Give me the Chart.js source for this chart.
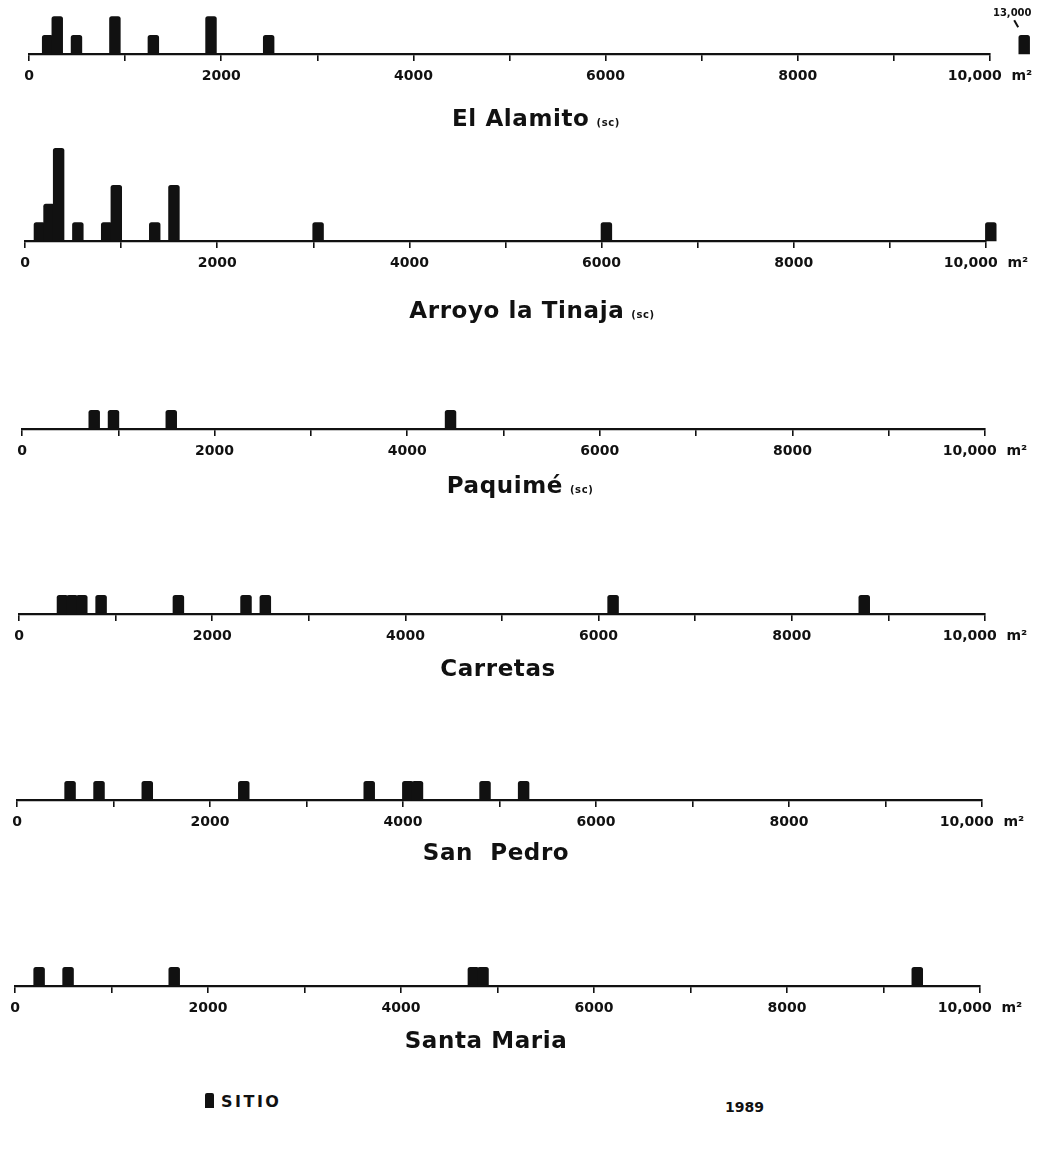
<!DOCTYPE html>
<html>
<head>
<meta charset="utf-8">
<script src="https://cdn.jsdelivr.net/npm/chart.js@4.4.0/dist/chart.umd.min.js"></script>
<style>
  html, body { margin: 0; padding: 0; background: #fff; }
  #page { position: relative; width: 1053px; height: 1155px; overflow: hidden; background: #fff; }
  #page canvas { position: absolute; left: 0; }
  .foot { position: absolute; font-family: "DejaVu Sans", sans-serif; font-weight: bold; color: #111; }
  .swatch { display: inline-block; width: 9px; height: 15px; background: #111; border-radius: 2px 2px 0 0; margin-right: 7px; vertical-align: -1px; }
</style>
</head>
<body>
<div id="page">
  <canvas id="c1"></canvas>
  <canvas id="c2"></canvas>
  <canvas id="c3"></canvas>
  <canvas id="c4"></canvas>
  <canvas id="c5"></canvas>
  <canvas id="c6"></canvas>
  <div class="foot" style="left:205px; top:1092px; font-size:16px; letter-spacing:2.5px;"><span class="swatch"></span>SITIO</div>
  <div class="foot" style="left:725px; top:1099px; font-size:14px;">1989</div>
</div>
<script>
// sitios por clase de area: inicio de la clase (m2) y numero de sitios
const BIN = 100;

const alamitoBins = [200, 300, 500, 900, 1300, 1900, 2500];
const alamitoSites = [1, 2, 1, 2, 1, 2, 1];
const alamitoOutlierArea = [13000];
const alamitoOutlierSites = [1];

const tinajaBins = [100, 200, 300, 500, 800, 900, 1300, 1500, 3000, 6000, 10000];
const tinajaSites = [1, 2, 5, 1, 1, 3, 1, 3, 1, 1, 1];

const paquimeBins = [700, 900, 1500, 4400];
const paquimeSites = [1, 1, 1, 1];

const carretasBins = [400, 500, 600, 800, 1600, 2300, 2500, 6100, 8700];
const carretasSites = [1, 1, 1, 1, 1, 1, 1, 1, 1];

const sanPedroBins = [500, 800, 1300, 2300, 3600, 4000, 4100, 4800, 5200];
const sanPedroSites = [1, 1, 1, 1, 1, 1, 1, 1, 1];

const santaMariaBins = [200, 500, 1600, 4700, 4800, 9300];
const santaMariaSites = [1, 1, 1, 1, 1, 1];

const tickValues = [0, 2000, 4000, 6000, 8000, 10000];
const tickLabels = ["0", "2000", "4000", "6000", "8000", "10,000  m²"];

// layout de cada panel (pixeles de la pagina)
const UNIT = 18.5;      // alto de un sitio
const PAD_TOP = 6;
const AXIS_H = 40;
const PAD_BOTTOM = 52;
const BREAK_AT = 10250; // donde se dibuja la clase fuera de escala

const panels = [
  { id: "c1", bins: alamitoBins, sites: alamitoSites, x0: 29, x1: 990, base: 54, yMax: 2.3,
    title: "El Alamito", note: "(sc)", titleX: 536, titleDy: 72 },
  { id: "c2", bins: tinajaBins, sites: tinajaSites, x0: 25, x1: 986, base: 241, yMax: 5.4,
    title: "Arroyo la Tinaja", note: "(sc)", titleX: 532, titleDy: 77 },
  { id: "c3", bins: paquimeBins, sites: paquimeSites, x0: 22, x1: 985, base: 429, yMax: 1.4,
    title: "Paquimé", note: "(sc)", titleX: 520, titleDy: 64 },
  { id: "c4", bins: carretasBins, sites: carretasSites, x0: 19, x1: 985, base: 614, yMax: 1.4,
    title: "Carretas", note: "", titleX: 498, titleDy: 62 },
  { id: "c5", bins: sanPedroBins, sites: sanPedroSites, x0: 17, x1: 982, base: 800, yMax: 1.4,
    title: "San  Pedro", note: "", titleX: 496, titleDy: 60 },
  { id: "c6", bins: santaMariaBins, sites: santaMariaSites, x0: 15, x1: 980, base: 986, yMax: 1.4,
    title: "Santa Maria", note: "", titleX: 486, titleDy: 62 }
];

// titulo centrado con la nota "(sc)" en letra chica
const titlePlugin = {
  id: "panelTitle",
  afterDraw(chart, args, opts) {
    const ctx = chart.ctx;
    const y = chart.chartArea.bottom + opts.dy;
    ctx.save();
    ctx.fillStyle = "#111";
    ctx.textBaseline = "alphabetic";
    ctx.textAlign = "left";
    ctx.letterSpacing = "0.6px";
    ctx.font = "bold 23px 'DejaVu Sans'";
    const wMain = ctx.measureText(opts.text).width;
    let wNote = 0;
    if (opts.note) {
      ctx.font = "bold 10px 'DejaVu Sans'";
      wNote = ctx.measureText(opts.note).width + 7;
    }
    const left = opts.x - (wMain + wNote) / 2;
    ctx.font = "bold 23px 'DejaVu Sans'";
    ctx.fillText(opts.text, left, y);
    if (opts.note) {
      ctx.font = "bold 10px 'DejaVu Sans'";
      ctx.fillText(opts.note, left + wMain + 7, y);
    }
    ctx.restore();
  }
};

// rotulo "13,000" sobre la barra fuera de escala
const outlierPlugin = {
  id: "outlierLabel",
  afterDatasetsDraw(chart, args, opts) {
    if (!opts.labels) return;
    const meta = chart.getDatasetMeta(1);
    const ctx = chart.ctx;
    ctx.save();
    meta.data.forEach((bar, i) => {
      const top = bar.y;
      ctx.strokeStyle = "#111";
      ctx.lineWidth = 2;
      ctx.beginPath();
      ctx.moveTo(bar.x - 10, top - 15);
      ctx.lineTo(bar.x - 6, top - 8);
      ctx.stroke();
      ctx.fillStyle = "#111";
      ctx.font = "bold 10px 'DejaVu Sans'";
      ctx.textAlign = "center";
      ctx.textBaseline = "alphabetic";
      ctx.fillText(opts.labels[i], bar.x - 12, top - 19);
    });
    ctx.restore();
  }
};

function makePanel(p, extra) {
  const plotH = p.yMax * UNIT;
  const canvas = document.getElementById(p.id);
  const h = Math.round(PAD_TOP + plotH + AXIS_H + PAD_BOTTOM);
  canvas.width = 1053;
  canvas.height = h;
  canvas.style.width = "1053px";
  canvas.style.height = h + "px";
  canvas.style.top = Math.round(p.base - plotH - PAD_TOP) + "px";

  const barW = (p.x1 - p.x0) / (10000 / BIN) * 1.12;
  const barStyle = {
    backgroundColor: "#111",
    barThickness: barW,
    borderRadius: { topLeft: 2.5, topRight: 2.5, bottomLeft: 0, bottomRight: 0 },
    borderSkipped: "bottom",
    clip: false
  };

  const datasets = [
    Object.assign({
      label: "SITIO",
      data: p.bins.map((b, i) => ({ x: b + BIN / 2, y: p.sites[i] }))
    }, barStyle)
  ];
  if (extra) {
    datasets.push(Object.assign({
      label: "SITIO",
      data: extra.areas.map((a, i) => ({ x: BREAK_AT + BIN / 2, y: extra.sites[i] }))
    }, barStyle));
  }

  new Chart(canvas, {
    type: "bar",
    data: { datasets },
    options: {
      responsive: false,
      animation: false,
      devicePixelRatio: 1,
      layout: {
        padding: { left: p.x0, right: 1053 - p.x1, top: PAD_TOP, bottom: PAD_BOTTOM }
      },
      plugins: {
        legend: { display: false },
        tooltip: { enabled: false },
        panelTitle: { text: p.title, note: p.note, x: p.titleX, dy: p.titleDy },
        outlierLabel: { labels: extra ? extra.areas.map(a => a.toLocaleString("en-US")) : null }
      },
      scales: {
        x: {
          type: "linear",
          min: 0,
          max: 10000,
          offset: false,
          afterFit(scale) { scale.height = AXIS_H; },
          ticks: {
            stepSize: 1000,
            autoSkip: false,
            maxRotation: 0,
            padding: 7,
            color: "#111",
            font: { family: "DejaVu Sans", weight: "bold", size: 14 },
            callback: (v) => {
              const k = tickValues.indexOf(v);
              return k >= 0 ? tickLabels[k] : "";
            }
          },
          grid: {
            display: true,
            offset: false,
            drawOnChartArea: false,
            drawTicks: true,
            tickLength: 7,
            color: "#111",
            lineWidth: 1.6
          },
          border: { display: true, color: "#111", width: 2.2 }
        },
        y: { display: false, min: 0, max: p.yMax }
      }
    },
    plugins: [titlePlugin, outlierPlugin]
  });
}

makePanel(panels[0], { areas: alamitoOutlierArea, sites: alamitoOutlierSites });
for (let i = 1; i < panels.length; i++) makePanel(panels[i]);
</script>
</body>
</html>
